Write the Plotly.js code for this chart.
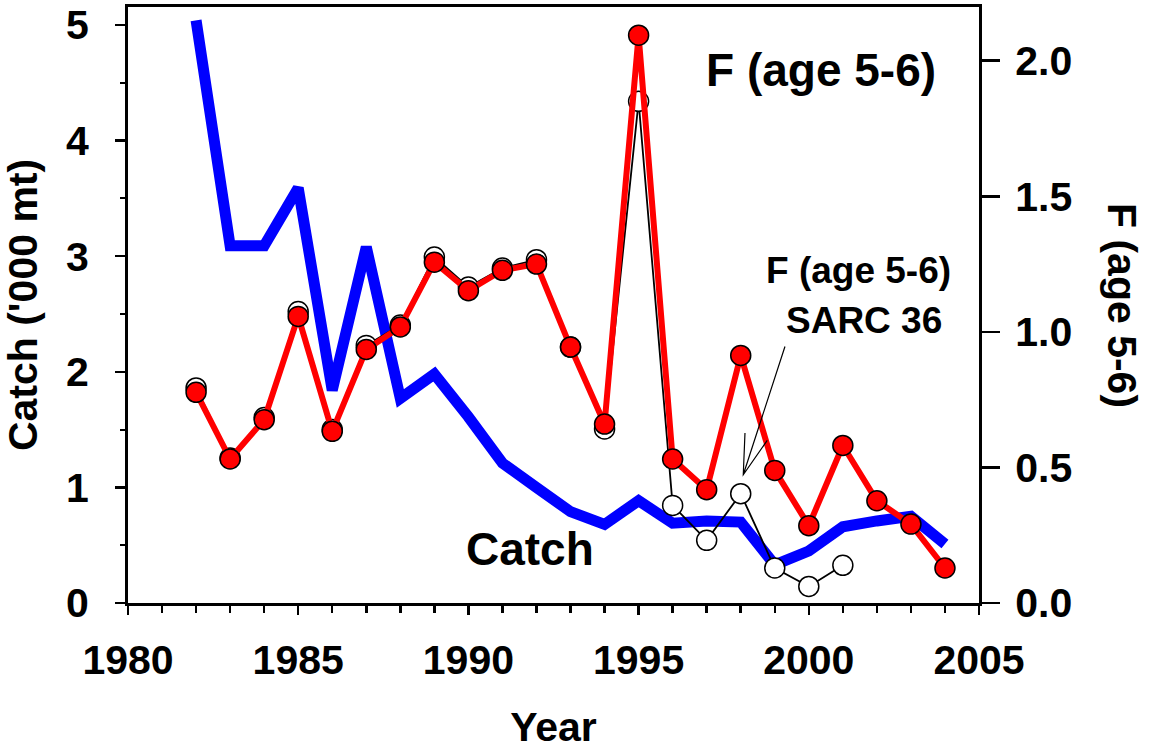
<!DOCTYPE html>
<html>
<head>
<meta charset="utf-8">
<script src="https://cdn.plot.ly/plotly-3.0.1.min.js"></script>
<style>html,body{margin:0;padding:0;background:#fff;}#chart{width:1149px;height:750px;}</style>
</head>
<body>
<div id="chart"></div>
<script>
// Years
const years = [1982,1983,1984,1985,1986,1987,1988,1989,1990,1991,1992,1993,1994,1995,1996,1997,1998,1999,2000,2001,2002,2003,2004];
// Catch ('000 mt), left axis
const catchVals = [5.04,3.09,3.09,3.59,1.84,3.08,1.77,1.98,1.61,1.21,1.00,0.79,0.68,0.885,0.69,0.71,0.70,0.33,0.45,0.66,0.71,0.75,0.51];
// F (age 5-6), current assessment, right axis
const fCurrent = [0.777,0.531,0.676,1.057,0.633,0.935,1.018,1.257,1.152,1.227,1.250,0.944,0.660,2.094,0.531,0.418,0.913,0.489,0.285,0.581,0.377,0.291,0.129];
// F (age 5-6) SARC 36, right axis
const sarcYears = [1982,1983,1984,1985,1986,1987,1988,1989,1990,1991,1992,1993,1994,1995,1996,1997,1998,1999,2000,2001];
const fSarc36 = [0.793,0.535,0.684,1.075,0.640,0.950,1.025,1.276,1.165,1.235,1.266,0.944,0.642,1.850,0.360,0.231,0.403,0.129,0.061,0.139];

const FONT = "Liberation Sans, Arial, Helvetica, sans-serif";

const traces = [
  {x: years, y: catchVals, type: 'scatter', mode: 'lines', name: 'Catch',
   line: {color: '#0000ff', width: 11}, yaxis: 'y', showlegend: false},
  {x: sarcYears, y: fSarc36, type: 'scatter', mode: 'lines+markers', name: 'F (age 5-6) SARC 36',
   line: {color: '#000000', width: 1.8},
   marker: {size: 20, color: '#ffffff', line: {color: '#000000', width: 1.5}},
   yaxis: 'y2', showlegend: false},
  {x: years, y: fCurrent, type: 'scatter', mode: 'lines+markers', name: 'F (age 5-6)',
   line: {color: '#ff0000', width: 6},
   marker: {size: 20, color: '#ff0000', line: {color: '#000000', width: 1.5}},
   yaxis: 'y2', showlegend: false}
];

const tickFont = {family: FONT, size: 41, color: '#000', weight: 'bold'};

const layout = {
  width: 1149, height: 750,
  margin: {l: 128, r: 170, t: 7, b: 147, pad: 0},
  paper_bgcolor: '#fff', plot_bgcolor: '#fff',
  showlegend: false,
  xaxis: {
    range: [1980, 2005], dtick: 5, tick0: 1980,
    showgrid: false, zeroline: false,
    showline: true, linecolor: '#000', linewidth: 3, mirror: true,
    ticks: 'outside', ticklen: 9, tickwidth: 2.5, tickcolor: '#000',
    minor: {dtick: 1, ticks: 'outside', ticklen: 7, tickwidth: 2.5, tickcolor: '#000', showgrid: false},
    tickfont: tickFont, ticklabelstandoff: 10,
    title: {text: 'Year', font: {family: FONT, size: 41, color: '#000', weight: 'bold'}, standoff: 42}
  },
  yaxis: {
    range: [0, 5.156], dtick: 1, tick0: 0,
    showgrid: false, zeroline: false,
    showline: true, linecolor: '#000', linewidth: 3,
    ticks: 'outside', ticklen: 10, tickwidth: 2.5, tickcolor: '#000',
    minor: {dtick: 0.5, ticks: 'outside', ticklen: 5, tickwidth: 2, tickcolor: '#000', showgrid: false},
    tickfont: tickFont, ticklabelstandoff: 18,
    title: {text: "Catch ('000 mt)", font: {family: FONT, size: 41, color: '#000', weight: 'bold'}, standoff: 16}
  },
  yaxis2: {
    overlaying: 'y', side: 'right',
    range: [0, 2.198], dtick: 0.5, tick0: 0, tickformat: '.1f',
    showgrid: false, zeroline: false,
    showline: true, linecolor: '#000', linewidth: 3,
    ticks: 'outside', ticklen: 18, tickwidth: 2.5, tickcolor: '#000',
    tickfont: tickFont, ticklabelstandoff: 7
  },
  annotations: [
    {text: 'F (age 5-6)', xref: 'paper', yref: 'paper', x: 1, y: 0.5, xshift: 143,
     xanchor: 'center', yanchor: 'middle', textangle: 90, showarrow: false,
     font: {family: FONT, size: 41, color: '#000', weight: 'bold'}},
    {text: 'F (age 5-6)', xref: 'x', yref: 'y2', x: 2000.37, y: 1.966,
     xanchor: 'center', yanchor: 'middle', showarrow: false,
     font: {family: FONT, size: 46, color: '#000', weight: 'bold'}},
    {text: 'F (age 5-6)', xref: 'x', yref: 'y2', x: 2001.45, y: 1.225,
     xanchor: 'center', yanchor: 'middle', showarrow: false,
     font: {family: FONT, size: 37, color: '#000', weight: 'bold'}},
    {text: 'SARC 36', xref: 'x', yref: 'y2', x: 2001.62, y: 1.041,
     xanchor: 'center', yanchor: 'middle', showarrow: false,
     font: {family: FONT, size: 37, color: '#000', weight: 'bold'}},
    {text: 'Catch', xref: 'x', yref: 'y', x: 1991.81, y: 0.47,
     xanchor: 'center', yanchor: 'middle', showarrow: false,
     font: {family: FONT, size: 46, color: '#000', weight: 'bold'}}
  ],
  shapes: [
    {type: 'path', xref: 'x', yref: 'y2',
     path: 'M 1999.30 0.946 L 1998.075 0.473 M 1998.125 0.627 L 1998.075 0.473 L 1998.78 0.600',
     line: {color: '#000', width: 1.2}}
  ]
};

Plotly.newPlot('chart', traces, layout, {displayModeBar: false, staticPlot: true});
</script>
</body>
</html>
